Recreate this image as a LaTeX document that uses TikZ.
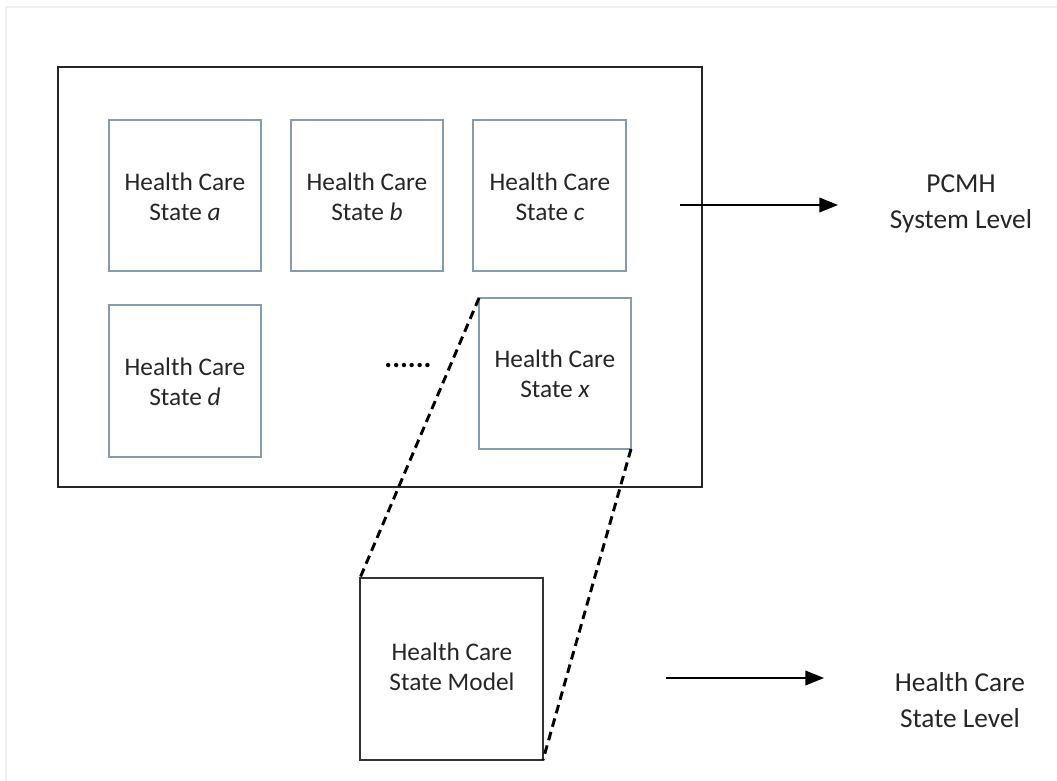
\documentclass[tikz,border=0pt]{standalone}
\usepackage{fontspec}
\setmainfont{Carlito}
\usetikzlibrary{arrows.meta}
\definecolor{stateedge}{RGB}{135,155,172}
\begin{document}
\begin{tikzpicture}[x=0.75pt,y=-0.75pt,
  statebox/.style={draw=stateedge, line width=1.3pt},
  modelbox/.style={draw=black!80, line width=1.4pt},
  label/.style={font=\fontsize{19}{22.5}\selectfont, align=center, text=black!85},
  levellabel/.style={font=\fontsize{20.5}{27}\selectfont, align=center, text=black!85},
  levelarrow/.style={draw=black, line width=1.1pt, -{Triangle[length=14pt,width=11pt]}},
  zoomline/.style={draw=black, line width=2.2pt, dash pattern=on 6.5pt off 4pt}]
\useasboundingbox (0,0) rectangle (1057,781);
\fill[white] (0,0) rectangle (1057,781);
% faint page edge
\draw[black!6, line width=2pt] (6,781) -- (6,7) -- (1057,7);

% system frame
\draw[black!85, line width=1.5pt] (58,67) rectangle (702,487);

% health care states
\draw[statebox] (109,120) rectangle (261,271);
\node[label] (a) at (185,197) {Health Care\\State \textit{a}};
\draw[statebox] (291,120) rectangle (443,271);
\node[label] (b) at (367,197) {Health Care\\State \textit{b}};
\draw[statebox] (473,120) rectangle (626,271);
\node[label] (c) at (550,197) {Health Care\\State \textit{c}};
\draw[statebox] (109,305) rectangle (261,457);
\node[label] (d) at (185,382) {Health Care\\State \textit{d}};
\draw[statebox] (479,298) rectangle (631,449);
\node[label] (x) at (555,374) {Health Care\\State \textit{x}};
\coordinate (xtl) at (479,298);
\coordinate (xbr) at (631,449);

% ellipsis between the rows
\node[font=\fontsize{22}{24}\selectfont\bfseries] (dots) at (408,366) {......};

% state model
\draw[modelbox] (360,578) rectangle (543,760);
\node[label] (m) at (452,667) {Health Care\\State Model};
\coordinate (mtl) at (360,578);
\coordinate (mbr) at (543,760);

% zoom lines
\draw[zoomline] (xtl) -- (mtl);
\draw[zoomline] (xbr) -- (mbr);

% level labels
\coordinate (s1) at (680,205);
\node[levellabel] (sys) at (961,204) {PCMH\\System Level};
\draw[levelarrow] (s1) -- (838,205);

\coordinate (s2) at (666,678);
\node[levellabel] (lvl) at (960,700) {Health Care\\State Level};
\draw[levelarrow] (s2) -- (824,678);
\end{tikzpicture}
\end{document}
